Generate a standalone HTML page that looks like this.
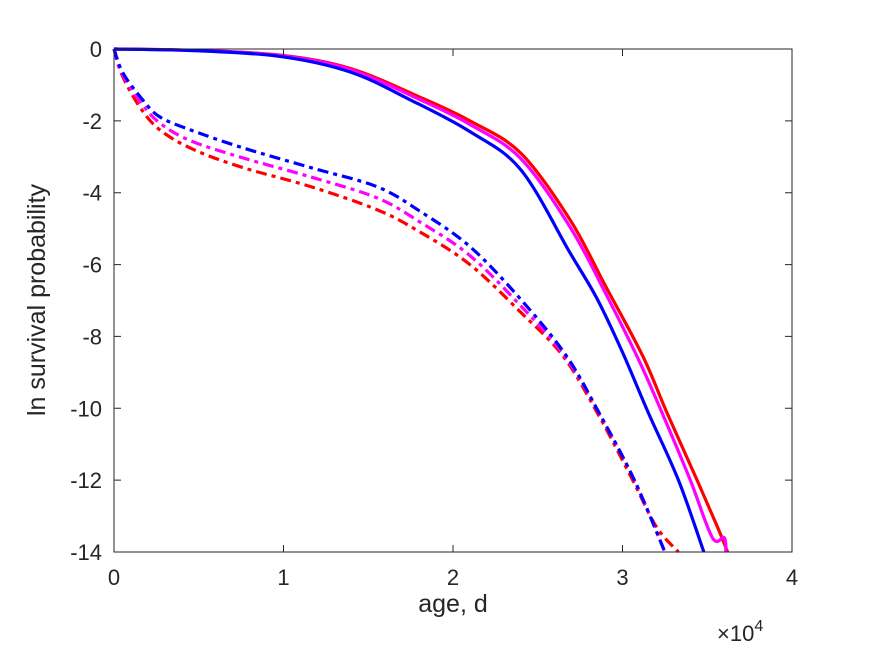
<!DOCTYPE html>
<html><head><meta charset="utf-8"><style>
body{margin:0;background:#fff}
svg{display:block;font-family:"Liberation Sans",sans-serif}
</style></head><body>
<svg id="chart" width="875" height="656" viewBox="0 0 875 656">
<rect width="875" height="656" fill="#fff"/>
<g id="series"></g>
<g id="axes"></g>
<text x="453" y="612" font-size="25" text-anchor="middle" fill="#262626">age, d</text>
<text x="717" y="641" font-size="22" fill="#262626">×10<tspan font-size="16" dy="-10">4</tspan></text>
<text transform="translate(45,300) rotate(-90)" font-size="25" text-anchor="middle" fill="#262626">ln survival probability</text>
</svg>
<script>
const xTicks=[0,1,2,3,4];
const yTicks=[0,-2,-4,-6,-8,-10,-12,-14];
const redSolid=[[0,0],[0.5,-0.04],[1,-0.18],[1.4,-0.55],[1.8,-1.33],[2.1,-2.0],[2.4,-2.9],[2.69,-4.75],[2.9,-6.6],[3.12,-8.55],[3.26,-10.1],[3.44,-12.0],[3.56,-13.3],[3.62,-14]];
const magentaSolid=[[0,0],[0.5,-0.04],[1,-0.19],[1.4,-0.58],[1.8,-1.4],[2.1,-2.1],[2.4,-3.05],[2.69,-4.95],[2.9,-6.8],[3.1,-8.7],[3.24,-10.2],[3.4,-12.0],[3.53,-13.6],[3.6,-13.6],[3.61,-14]];
const blueSolid=[[0,0],[0.5,-0.05],[1,-0.22],[1.4,-0.65],[1.75,-1.42],[2.1,-2.3],[2.4,-3.36],[2.69,-5.67],[2.85,-6.95],[3.0,-8.44],[3.15,-10.1],[3.33,-12.0],[3.48,-14]];
const blueDash=[[0,0],[0.053,-0.67],[0.17,-1.42],[0.27,-1.89],[0.45,-2.25],[0.76,-2.75],[1.16,-3.3],[1.55,-3.83],[1.8,-4.5],[2.1,-5.5],[2.4,-6.97],[2.67,-8.55],[2.87,-10.2],[3.07,-12.0],[3.25,-14]];
const magentaDash=[[0,0],[0.05,-0.7],[0.16,-1.5],[0.27,-2.06],[0.45,-2.55],[0.76,-3.03],[1.16,-3.56],[1.55,-4.14],[1.8,-4.8],[2.1,-5.75],[2.4,-7.15],[2.66,-8.55],[2.87,-10.2],[3.07,-12.0],[3.25,-14]];
const redDash=[[0,0],[0.045,-0.7],[0.15,-1.6],[0.27,-2.25],[0.47,-2.8],[0.76,-3.3],[1.16,-3.83],[1.55,-4.47],[1.8,-5.08],[2.1,-6.0],[2.4,-7.33],[2.65,-8.55],[2.86,-10.2],[3.06,-12.0],[3.2,-13.3],[3.33,-14]];

const L=114,R=792,T=49,B=552;
const sx=v=>L+(v/4)*(R-L);
const sy=v=>T+(0-v)/14*(B-T);
const NS="http://www.w3.org/2000/svg";
const sg=document.getElementById('series');
function smooth(pts){
  const p=pts.map(d=>[sx(d[0]),sy(d[1])]);
  let s=`M${p[0][0]},${p[0][1]}`;
  for(let i=0;i<p.length-1;i++){
    const p0=p[i-1]||p[i],p1=p[i],p2=p[i+1],p3=p[i+2]||p2;
    const c1=[p1[0]+(p2[0]-p0[0])/6,p1[1]+(p2[1]-p0[1])/6];
    const c2=[p2[0]-(p3[0]-p1[0])/6,p2[1]-(p3[1]-p1[1])/6];
    s+=`C${c1[0]},${c1[1]} ${c2[0]},${c2[1]} ${p2[0]},${p2[1]}`;
  }
  return s;
}
function line(pts,color,dash,name){
  const el=document.createElementNS(NS,'path');
  el.setAttribute('d',smooth(pts));
  el.setAttribute('fill','none');
  el.setAttribute('stroke',color);
  el.setAttribute('stroke-width','3.2');
  if(dash)el.setAttribute('stroke-dasharray','11,5,4,5');
  
  
  sg.appendChild(el);
}
line(redDash,'#ff0000',true,'red-dashdot-line');
line(magentaDash,'#ff00ff',true,'magenta-dashdot-line');
line(blueDash,'#0000ff',true,'blue-dashdot-line');
line(redSolid,'#ff0000',false,'red-solid-line');
line(magentaSolid,'#ff00ff',false,'magenta-solid-line');
line(blueSolid,'#0000ff',false,'blue-solid-line');

const ag=document.getElementById('axes');
const box=document.createElementNS(NS,'rect');
box.setAttribute('x',L);box.setAttribute('y',T);box.setAttribute('width',R-L);box.setAttribute('height',B-T);
box.setAttribute('fill','none');box.setAttribute('stroke','#262626');box.setAttribute('stroke-width','1');


ag.appendChild(box);
xTicks.forEach(v=>{
  const x=sx(v);
  const t=document.createElementNS(NS,'path');
  t.setAttribute('d',`M${x},${B}V${B-7}M${x},${T}V${T+7}`);
  t.setAttribute('stroke','#262626');
  
  
  ag.appendChild(t);
  const lb=document.createElementNS(NS,'text');
  lb.setAttribute('x',x);lb.setAttribute('y',B+33);lb.setAttribute('font-size','22');
  lb.setAttribute('text-anchor','middle');lb.setAttribute('fill','#262626');
  lb.textContent=v;
  
  
  ag.appendChild(lb);
});
yTicks.forEach(v=>{
  const y=sy(v);
  const t=document.createElementNS(NS,'path');
  t.setAttribute('d',`M${L},${y}H${L+7}M${R},${y}H${R-7}`);
  t.setAttribute('stroke','#262626');
  
  
  ag.appendChild(t);
  const lb=document.createElementNS(NS,'text');
  lb.setAttribute('x',L-12);lb.setAttribute('y',y+8);lb.setAttribute('font-size','22');
  lb.setAttribute('text-anchor','end');lb.setAttribute('fill','#262626');
  lb.textContent=v;
  
  
  ag.appendChild(lb);
});
</script>
</body></html>
